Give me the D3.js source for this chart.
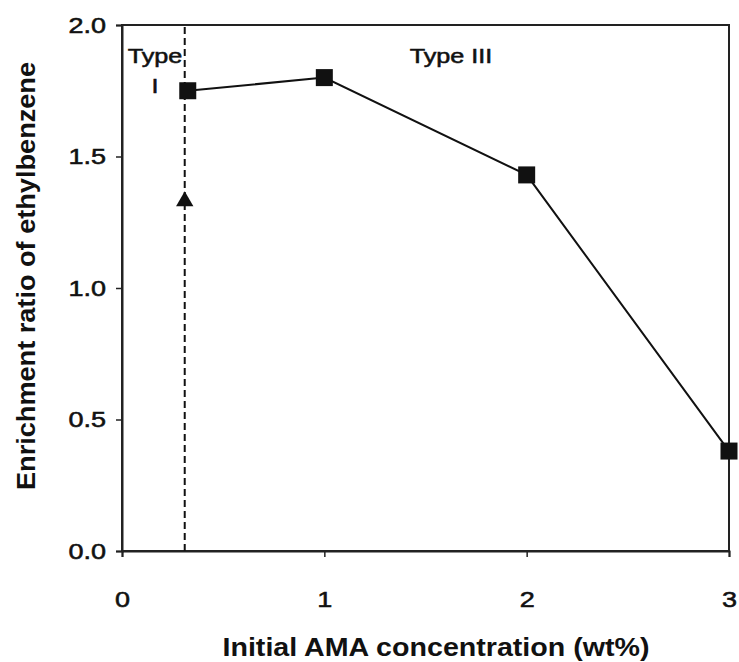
<!DOCTYPE html>
<html>
<head>
<meta charset="utf-8">
<script src="https://cdn.jsdelivr.net/npm/d3@7"></script>
<style>
  body { margin: 0; background: #fff; }
  svg { display: block; }
  text { font-family: Arial, "Liberation Sans", sans-serif; fill: #111; }
</style>
</head>
<body>
<svg id="chart" width="739" height="662"></svg>
<script>
// ---- data ----
const concentrations = [0.325, 1.0, 2.0, 3.0];
const enrichment = [1.75, 1.80, 1.43, 0.38];
const xTicks = [0, 1, 2, 3];
const yTicks = [0.0, 0.5, 1.0, 1.5, 2.0];
const boundaryX = 0.31;        // dashed Type I / Type III boundary
const arrowPoint = [0.31, 1.33];
const xTitle = "Initial AMA concentration (wt%)";
const yTitle = "Enrichment ratio of ethylbenzene";

(function() {
const svg = d3.select("#chart");
const mL = 122, mR = 729, mT = 25, mB = 551;
const x = d3.scaleLinear().domain([0, 3]).range([mL, mR]);
const y = d3.scaleLinear().domain([0, 2]).range([mB, mT]);
const STRETCH = 1.2;
function stretch(sel) {
  sel.each(function() {
    const w = this.getComputedTextLength();
    d3.select(this).attr("textLength", w * STRETCH).attr("lengthAdjust", "spacingAndGlyphs");
  });
}

// frame
svg.append("rect").attr("x", mL).attr("y", mT).attr("width", mR - mL).attr("height", mB - mT)
  .attr("fill", "none").attr("stroke", "#222").attr("stroke-width", 2);

// axes
const yAxis = svg.append("g").attr("transform", `translate(${mL},0)`)
  .call(d3.axisLeft(y).tickValues(yTicks).tickFormat(d3.format(".1f")).tickSize(6).tickPadding(10));
const xAxis = svg.append("g").attr("transform", `translate(0,${mB})`)
  .call(d3.axisBottom(x).tickValues(xTicks).tickFormat(d3.format("d")).tickSize(6).tickPadding(34));
[yAxis, xAxis].forEach(a => {
  a.select(".domain").attr("stroke", "#222").attr("stroke-width", 2);
  a.selectAll(".tick line").attr("stroke", "#222").attr("stroke-width", 1.5);
  a.selectAll(".tick text").attr("font-size", 22.5).attr("fill", "#111")
    .attr("stroke", "#111").attr("stroke-width", 0.55)
    .style("font-family", "Arial, 'Liberation Sans', sans-serif");
});
stretch(yAxis.selectAll(".tick text"));
stretch(xAxis.selectAll(".tick text"));

// dashed boundary
svg.append("line").attr("x1", x(boundaryX)).attr("x2", x(boundaryX))
  .attr("y1", y(0)).attr("y2", y(2))
  .attr("stroke", "#111").attr("stroke-width", 2).attr("stroke-dasharray", "7,4");

// arrow head (triangle)
svg.append("path").attr("d", d3.symbol().type(d3.symbolTriangle).size(130)())
  .attr("transform", `translate(${x(arrowPoint[0])},${y(arrowPoint[1])})`)
  .attr("fill", "#111");

// data line
const pts = concentrations.map((c, i) => [c, enrichment[i]]);
svg.append("path").datum(pts)
  .attr("d", d3.line().x(d => x(d[0])).y(d => y(d[1])))
  .attr("fill", "none").attr("stroke", "#111").attr("stroke-width", 2);

// markers
const s = 17;
svg.selectAll("rect.pt").data(pts).join("rect").attr("class", "pt")
  .attr("x", d => x(d[0]) - s / 2).attr("y", d => y(d[1]) - s / 2)
  .attr("width", s).attr("height", s).attr("fill", "#111");

// annotations
const ann = [
  svg.append("text").attr("x", 155).attr("y", 63).text("Type"),
  svg.append("text").attr("x", 155).attr("y", 93).text("I"),
  svg.append("text").attr("x", 451).attr("y", 63).text("Type III")
];
ann.forEach(t => {
  t.attr("text-anchor", "middle").attr("font-size", 21)
   .attr("stroke", "#111").attr("stroke-width", 0.55);
  stretch(t);
});

// axis titles
svg.append("text").attr("x", 436).attr("y", 656).attr("text-anchor", "middle")
  .attr("font-size", 25).attr("font-weight", "bold")
  .attr("textLength", 427).attr("lengthAdjust", "spacingAndGlyphs").text(xTitle);
svg.append("text").attr("transform", "translate(35,276) rotate(-90)").attr("text-anchor", "middle")
  .attr("font-size", 26).attr("font-weight", "bold")
  .attr("textLength", 428).attr("lengthAdjust", "spacingAndGlyphs").text(yTitle);
})();
</script>
</body>
</html>
